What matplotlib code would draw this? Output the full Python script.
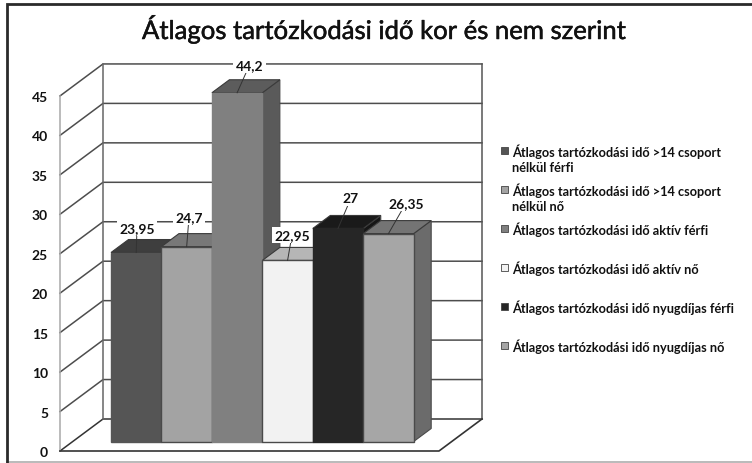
import matplotlib
matplotlib.use("Agg")
import matplotlib.pyplot as plt
import matplotlib.patheffects as pe
from matplotlib.patches import Polygon, Rectangle

series_names = [
    "Átlagos tartózkodási idő >14 csoport\nnélkül férfi",
    "Átlagos tartózkodási idő >14 csoport\nnélkül nő",
    "Átlagos tartózkodási idő aktív férfi",
    "Átlagos tartózkodási idő aktív nő",
    "Átlagos tartózkodási idő nyugdíjas férfi",
    "Átlagos tartózkodási idő nyugdíjas nő",
]
values = [23.95, 24.7, 44.2, 22.95, 27, 26.35]
value_labels = ["23,95", "24,7", "44,2", "22,95", "27", "26,35"]
ticks = [0, 5, 10, 15, 20, 25, 30, 35, 40, 45]
title = "Átlagos tartózkodási idő kor és nem szerint"
front_colors = ["#555555", "#a3a3a3", "#808080", "#f2f2f2", "#262626", "#a6a6a6"]
top_colors = ["#3e3e3e", "#787878", "#5c5c5c", "#b6b6b6", "#1a1a1a", "#747474"]
side_colors = ["#3e3e3e", "#6a6a6a", "#5a5a5a", "#9a9a9a", "#161616", "#6b6b6b"]

W, H = 752, 464
plt.rcParams["font.family"] = ["Lato", "DejaVu Sans"]
fig = plt.figure(figsize=(W / 100, H / 100), dpi=100, facecolor="white")
ax = fig.add_axes([0, 0, 1, 1])
# pixel calibration of the bar plane
PX_X, X0 = 50.45, 111.0
PX_Y, Y0 = 7.89, 442.5
ax.set_xlim(-X0 / PX_X, (W - X0) / PX_X)
ax.set_ylim((Y0 - H) / PX_Y, Y0 / PX_Y)
ax.axis("off")

def P(xp, yp):
    return ((xp - X0) / PX_X, (Y0 - yp) / PX_Y)

def V(v):
    return v * PX_Y

# frame
ax.plot(*zip(P(7, 463), P(752, 463)), color="#b4b4b4", lw=1.3, zorder=1)
ax.plot(*zip(P(7, 463.5), P(7, 5), P(752, 5)), color="#2a2a2a", lw=2.0, zorder=1, solid_joinstyle="miter")

# walls
for t in ticks:
    yb = 420 - V(t)
    yf = 452 - V(t)
    ax.plot(*zip(P(60, yf), P(103, yb), P(482, yb)), color="#4d4d4d" if t else "#333333", lw=1.1, zorder=2)
ax.plot(*zip(P(103, 420), P(103, 420 - V(45))), color="#666666", lw=1.1, zorder=2)
ax.plot(*zip(P(60, 452), P(60, 452 - V(45))), color="#a8a8a8", lw=1.1, zorder=2)
ax.plot(*zip(P(482, 420), P(482, 420 - V(45))), color="#555555", lw=1.1, zorder=2)
ax.plot(*zip(P(60, 452), P(439, 452), P(482, 420)), color="#333333", lw=1.2, zorder=2)

for t in ticks:
    ax.text(*P(48, 452 - V(t) + 1), str(t), ha="right", va="center", fontsize=10, fontweight="bold", color="#111111", zorder=3)

# bars
DX, DY = 17.5, 13.0
ddx, ddy = DX / PX_X, DY / PX_Y
for i, v in enumerate(values):
    z = 4 + i
    edge = "#4a4a4a" if i in (1, 3, 5) else front_colors[i]
    ax.add_patch(Polygon([(i + 1, 0), (i + 1 + ddx, ddy), (i + 1 + ddx, v + ddy), (i + 1, v)],
                         fc=side_colors[i], ec="#4a4a4a", lw=0.8, zorder=z))
    ax.add_patch(Polygon([(i, v), (i + ddx, v + ddy), (i + 1 + ddx, v + ddy), (i + 1, v)],
                         fc=top_colors[i], ec="#3a3a3a", lw=0.8, zorder=z))
    ax.bar(i, v, width=1.0, align="edge", color=front_colors[i], edgecolor=edge, linewidth=1.0, zorder=z)

# data labels
label_pix = [(137, 229), (189, 218), (249.5, 66), (292, 236), (351, 199), (406, 204)]
for i, (v, lab, (lx, ly)) in enumerate(zip(values, value_labels, label_pix)):
    ax.plot(*zip(P(lx, ly), P(X0 + (i + 0.5) * PX_X, Y0 - V(v))), color="#333333", lw=0.7, zorder=12)
    ax.text(*P(lx, ly), lab, ha="center", va="center", fontsize=10, fontweight="bold", color="#111111", zorder=13,
            bbox=dict(fc="white", ec="none", pad=1.6))

# title
ax.text(*P(385, 30), title, ha="center", va="center", fontsize=18.5, color="#111111", zorder=13,
        path_effects=[pe.withStroke(linewidth=0.35, foreground="#111111")])

# legend
leg_y = [152, 191, 230, 269, 308, 347]
for i, (name, yy) in enumerate(zip(series_names, leg_y)):
    ax.add_patch(Rectangle(P(501, yy + 3), 6.5 / PX_X, 7 / PX_Y, fc=front_colors[i], ec="#444444", lw=0.6, zorder=3))
    for j, line in enumerate(name.split("\n")):
        ax.text(*P(512.5, yy + j * 16.5), line, ha="left", va="center", fontsize=9.2, fontweight="bold",
                color="#111111", zorder=3)

fig.savefig("out.png", dpi=100, facecolor="white")
